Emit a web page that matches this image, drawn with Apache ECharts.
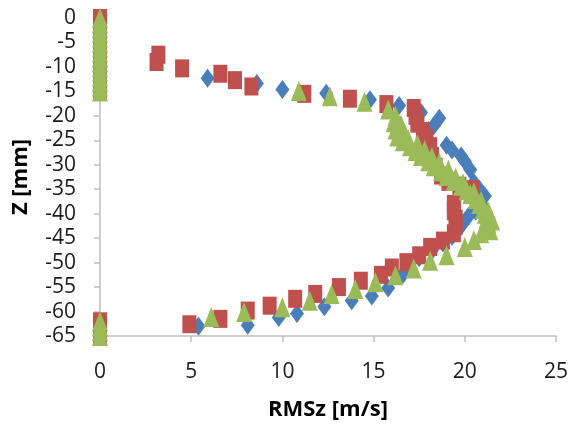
<!DOCTYPE html>
<html><head><meta charset="utf-8">
<script src="https://cdn.jsdelivr.net/npm/echarts@6/dist/echarts.min.js"></script>
<style>html,body{margin:0;padding:0;background:#fff}#c{width:577px;height:426px}</style>
</head><body><div id="c"></div>
<script>
const xTicks = [0, 5, 10, 15, 20, 25];
const zTicks = [0, -5, -10, -15, -20, -25, -30, -35, -40, -45, -50, -55, -60, -65];
const seriesNames = ['Blue', 'Red', 'Green'];

// [RMSz, Z]
const blueData = [
  [0,0],[0,-1],[0,-2],[0,-3],[0,-4],[0,-5],[0,-6],[0,-7],[0,-8],[0,-9],[0,-10],[0,-11],[0,-12],[0,-13],[0,-14],[0,-15],
  [5.9,-12.3],[8.6,-13.4],[10.0,-14.6],[12.4,-15.4],[14.8,-16.7],[16.4,-17.9],[17.6,-19.3],[18.6,-20.5],
  [18.3,-22.0],[18.0,-23.0],[19.0,-26.0],[19.3,-27.0],[19.8,-28.2],[20.0,-29.3],[20.3,-31.0],[20.5,-33.6],
  [20.8,-35.0],[21.1,-36.4],[20.9,-38.0],[20.6,-39.5],[20.2,-40.5],[19.9,-42.0],[19.6,-43.5],[19.3,-44.6],
  [18.8,-46.0],[18.2,-47.5],[17.5,-49.0],[16.9,-50.5],[16.6,-52.5],[15.8,-55.2],[14.9,-56.8],[13.8,-57.8],
  [12.3,-59.0],[10.8,-60.4],[9.8,-61.2],[8.1,-62.8],[5.4,-63.0],
  [0,-62],[0,-63],[0,-64],[0,-65]
];
const redData = [
  [0,0],[0,-1],[0,-2],[0,-3],[0,-4],[0,-5],[0,-6],[0,-7],[0,-8],[0,-9],[0,-10],[0,-11],[0,-12],[0,-13],[0,-14],[0,-15],
  [3.2,-7.5],[3.1,-9.0],[4.5,-10.3],[6.6,-11.4],[7.4,-12.7],[8.3,-14.0],[11.2,-15.5],[13.7,-16.5],
  [15.7,-17.6],[17.2,-18.4],[17.3,-20.0],[17.4,-21.6],[17.7,-23.1],[17.9,-24.6],[18.1,-26.2],[18.2,-28.2],
  [18.4,-30.4],[18.7,-32.2],[19.1,-33.5],[19.7,-34.3],[20.4,-35.0],[19.4,-38.0],[19.4,-39.5],[19.5,-41.0],
  [19.5,-42.5],[19.4,-44.0],[18.8,-45.5],[18.1,-46.8],[17.5,-48.5],[16.8,-49.9],[16.0,-51.0],[15.4,-52.5],
  [14.3,-53.7],[13.1,-55.0],[11.8,-56.4],[10.7,-57.4],[9.3,-58.8],[8.1,-59.8],[6.6,-61.5],[4.9,-62.6],
  [0,-62],[0,-63],[0,-64],[0,-65]
];
const greenData = [
  [0,0],[0,-1],[0,-2],[0,-3],[0,-4],[0,-5],[0,-6],[0,-7],[0,-8],[0,-9],[0,-10],[0,-11],[0,-12],[0,-13],[0,-14],[0,-15],
  [10.9,-14.9],[12.6,-16.0],[14.5,-17.1],[15.8,-18.7],[16.2,-20.0],[16.1,-21.3],[16.2,-22.8],[16.3,-24.2],
  [16.6,-25.2],[17.0,-26.2],[17.3,-27.2],[17.6,-28.2],[18.0,-29.3],[18.3,-30.3],[18.7,-31.3],[19.0,-32.3],
  [19.4,-33.3],[19.8,-34.3],[20.1,-35.2],[20.3,-36.0],[20.6,-37.0],[20.8,-38.0],[21.0,-39.0],[21.1,-40.0],
  [21.2,-41.0],[21.3,-42.0],[21.2,-43.0],[20.9,-44.0],[20.5,-45.4],[20.0,-46.8],[19.0,-48.5],[18.1,-49.6],
  [17.2,-51.2],[16.2,-52.6],[15.1,-54.0],[14.0,-55.4],[12.7,-56.4],[11.5,-57.8],[10.0,-59.1],[7.9,-60.1],
  [6.1,-61.1],
  [16.5,-21.8],[16.7,-23.5],[16.9,-24.8],[17.4,-25.8],[17.8,-27.0],[18.2,-28.4],[18.6,-29.6],[19.1,-31.0],
  [19.5,-32.6],[19.9,-33.8],[20.5,-35.6],[20.9,-37.4],[21.3,-39.6],[21.5,-41.4],[21.4,-43.4],
  [0,-62],[0,-63],[0,-64],[0,-65]
];

const font = '"Open Sans", "Liberation Sans", sans-serif';
const chart = echarts.init(document.getElementById('c'), null, {renderer: 'canvas'});
chart.setOption({
  animation: false,
  backgroundColor: '#ffffff',
  grid: {left: 100, right: 21, top: 18, bottom: 89, containLabel: false},
  xAxis: {
    type: 'value', min: xTicks[0], max: xTicks[xTicks.length - 1], interval: 5,
    name: 'RMSz [m/s]', nameLocation: 'middle', nameGap: 63,
    nameTextStyle: {fontFamily: font, fontSize: 22, fontWeight: 'bold', color: '#000'},
    axisLine: {onZero: false, lineStyle: {color: '#bfbfbf', width: 1.5}},
    axisTick: {show: true, length: 6, lineStyle: {color: '#bfbfbf', width: 1.5}},
    axisLabel: {fontFamily: font, fontSize: 21, color: '#1a1a1a', margin: 26},
    splitLine: {show: false}
  },
  yAxis: {
    type: 'value', min: zTicks[zTicks.length - 1], max: zTicks[0], interval: 5,
    name: 'Z [mm]', nameLocation: 'middle', nameGap: 68, nameRotate: 90,
    nameTextStyle: {fontFamily: font, fontSize: 22, fontWeight: 'bold', color: '#000'},
    axisLine: {show: true, onZero: false, lineStyle: {color: '#bfbfbf', width: 1.5}},
    axisTick: {show: true, length: 6, lineStyle: {color: '#bfbfbf', width: 1.5}},
    axisLabel: {fontFamily: font, fontSize: 21, color: '#1a1a1a', margin: 24},
    splitLine: {show: false}
  },
  series: [
    {name: seriesNames[0], type: 'scatter', data: blueData, symbol: 'diamond', symbolSize: [14, 19],
     itemStyle: {color: '#4a7ebb', opacity: 1}},
    {name: seriesNames[1], type: 'scatter', data: redData, symbol: 'rect', symbolSize: [14, 18],
     itemStyle: {color: '#c0504d', opacity: 1}},
    {name: seriesNames[2], type: 'scatter', data: greenData, symbol: 'triangle', symbolSize: [16, 20],
     itemStyle: {color: '#9bbb59', opacity: 1}}
  ]
});
</script>
</body></html>
